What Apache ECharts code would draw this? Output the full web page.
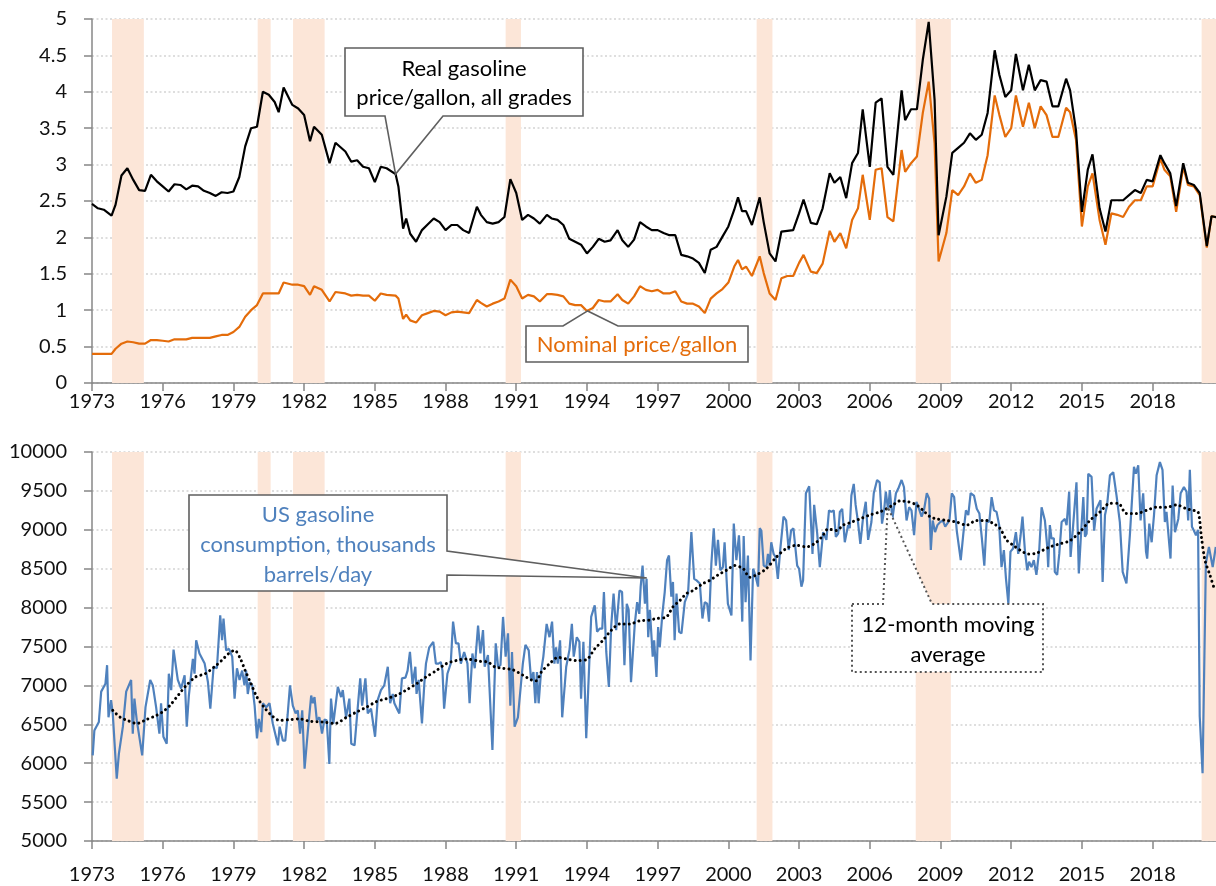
<!DOCTYPE html>
<html><head><meta charset="utf-8">
<script src="https://cdn.jsdelivr.net/npm/echarts@6/dist/echarts.min.js"></script>
<style>html,body{margin:0;padding:0;background:#fff}#c{width:1216px;height:886px}</style>
</head><body><div id="c"></div>
<script>
// ---------------- data ----------------
const BASE_YEAR = 1973;
const xTickYears = [1973,1976,1979,1982,1985,1988,1991,1994,1997,2000,2003,2006,2009,2012,2015,2018];
const priceTicks = [0,0.5,1,1.5,2,2.5,3,3.5,4,4.5,5];
const consTicks = [5000,5500,6000,6500,7000,7500,8000,8500,9000,9500,10000];
const recessions = [[1973.85,1975.2],[1980.03,1980.58],[1981.53,1982.87],[1990.55,1991.2],[2001.2,2001.87],[2007.95,2009.44],[2020.08,2021]];

const priceYears = [1973.00,1973.25,1973.50,1973.83,1974.00,1974.25,1974.50,1974.75,1975.00,1975.25,1975.50,1975.75,1976.00,1976.25,1976.50,1976.75,1977.00,1977.25,1977.50,1977.75,1978.00,1978.25,1978.50,1978.75,1979.00,1979.25,1979.50,1979.75,1980.00,1980.25,1980.50,1980.75,1980.92,1981.13,1981.50,1981.75,1982.00,1982.25,1982.42,1982.75,1983.08,1983.33,1983.75,1984.00,1984.25,1984.50,1984.75,1985.00,1985.25,1985.50,1985.88,1986.00,1986.20,1986.33,1986.50,1986.75,1987.00,1987.25,1987.50,1987.75,1988.00,1988.25,1988.50,1988.75,1989.00,1989.33,1989.50,1989.75,1990.00,1990.25,1990.50,1990.75,1991.00,1991.25,1991.50,1991.75,1992.00,1992.30,1992.50,1992.75,1993.00,1993.25,1993.50,1993.75,1994.00,1994.25,1994.50,1994.75,1995.00,1995.30,1995.50,1995.75,1996.00,1996.25,1996.50,1996.75,1997.00,1997.25,1997.50,1997.75,1998.00,1998.25,1998.50,1998.75,1999.00,1999.25,1999.50,1999.75,2000.00,2000.25,2000.41,2000.58,2000.75,2001.00,2001.33,2001.50,2001.75,2002.00,2002.25,2002.50,2002.75,2003.00,2003.19,2003.50,2003.75,2004.00,2004.30,2004.50,2004.75,2005.00,2005.25,2005.50,2005.70,2006.00,2006.25,2006.50,2006.75,2007.00,2007.35,2007.50,2007.75,2008.00,2008.25,2008.50,2008.75,2008.92,2009.25,2009.50,2009.75,2010.00,2010.25,2010.50,2010.75,2011.00,2011.30,2011.50,2011.75,2012.00,2012.20,2012.50,2012.75,2013.00,2013.25,2013.50,2013.75,2014.00,2014.33,2014.50,2014.75,2015.00,2015.25,2015.45,2015.75,2016.00,2016.25,2016.50,2016.75,2017.00,2017.25,2017.50,2017.75,2018.00,2018.33,2018.50,2018.75,2019.00,2019.30,2019.50,2019.75,2020.00,2020.30,2020.50,2020.80];
const realPrice = [2.46,2.40,2.38,2.30,2.45,2.85,2.95,2.79,2.65,2.64,2.86,2.77,2.70,2.63,2.73,2.72,2.66,2.71,2.70,2.64,2.61,2.57,2.62,2.61,2.63,2.83,3.25,3.50,3.52,4.00,3.96,3.86,3.72,4.06,3.82,3.77,3.68,3.32,3.52,3.41,3.02,3.30,3.18,3.04,3.06,2.97,2.95,2.76,2.97,2.95,2.87,2.70,2.12,2.26,2.05,1.94,2.10,2.18,2.26,2.21,2.10,2.17,2.17,2.10,2.06,2.42,2.31,2.21,2.19,2.21,2.28,2.80,2.61,2.24,2.31,2.26,2.19,2.31,2.26,2.24,2.17,1.98,1.94,1.90,1.78,1.87,1.98,1.94,1.96,2.10,1.96,1.87,1.97,2.21,2.15,2.10,2.10,2.06,2.03,2.03,1.76,1.74,1.71,1.65,1.51,1.83,1.87,2.01,2.15,2.38,2.55,2.36,2.36,2.17,2.55,2.21,1.78,1.67,2.08,2.09,2.10,2.33,2.52,2.20,2.18,2.40,2.88,2.75,2.83,2.54,3.02,3.16,3.76,2.97,3.85,3.91,2.97,2.86,4.02,3.61,3.76,3.76,4.44,4.96,3.89,2.03,2.56,3.16,3.23,3.30,3.43,3.34,3.41,3.71,4.57,4.23,3.93,4.02,4.52,4.02,4.37,4.02,4.16,4.14,3.80,3.80,4.18,4.02,3.47,2.35,2.93,3.14,2.40,2.08,2.51,2.51,2.51,2.58,2.65,2.61,2.79,2.77,3.13,3.02,2.88,2.43,3.02,2.75,2.72,2.61,1.88,2.29,2.27];
const nominalPrice = [0.40,0.40,0.40,0.40,0.47,0.54,0.57,0.56,0.54,0.54,0.59,0.59,0.58,0.57,0.60,0.60,0.60,0.62,0.62,0.62,0.62,0.64,0.66,0.66,0.70,0.77,0.91,1.00,1.07,1.23,1.23,1.23,1.23,1.38,1.35,1.35,1.33,1.21,1.33,1.28,1.12,1.25,1.23,1.20,1.21,1.20,1.20,1.13,1.23,1.21,1.20,1.16,0.88,0.94,0.86,0.83,0.93,0.96,0.99,0.98,0.93,0.97,0.98,0.97,0.96,1.14,1.10,1.05,1.09,1.12,1.16,1.42,1.33,1.16,1.21,1.19,1.12,1.22,1.22,1.21,1.19,1.09,1.07,1.07,0.99,1.03,1.14,1.12,1.12,1.22,1.14,1.09,1.19,1.33,1.28,1.26,1.28,1.23,1.23,1.26,1.12,1.09,1.09,1.05,0.96,1.16,1.23,1.29,1.38,1.60,1.69,1.56,1.60,1.47,1.74,1.51,1.23,1.14,1.44,1.47,1.47,1.65,1.76,1.53,1.51,1.64,2.09,1.94,2.06,1.85,2.24,2.40,2.86,2.24,2.93,2.95,2.28,2.22,3.20,2.90,3.02,3.11,3.71,4.14,3.29,1.67,2.06,2.65,2.58,2.70,2.88,2.75,2.79,3.13,3.95,3.68,3.38,3.50,3.95,3.52,3.85,3.50,3.80,3.68,3.38,3.38,3.78,3.72,3.34,2.15,2.70,2.88,2.24,1.90,2.33,2.31,2.28,2.42,2.51,2.51,2.70,2.70,3.08,2.93,2.84,2.35,2.97,2.72,2.70,2.58,1.86,2.29,2.27];

const consYears = [1973.03,1973.10,1973.29,1973.39,1973.57,1973.64,1973.70,1973.81,1973.88,1974.05,1974.14,1974.31,1974.45,1974.66,1974.73,1974.80,1974.90,1975.13,1975.27,1975.47,1975.58,1975.72,1975.79,1975.86,1975.93,1976.03,1976.17,1976.26,1976.36,1976.46,1976.64,1976.78,1976.93,1977.02,1977.11,1977.28,1977.35,1977.42,1977.56,1977.78,1977.92,1978.02,1978.16,1978.30,1978.44,1978.52,1978.58,1978.69,1978.81,1978.95,1979.05,1979.15,1979.26,1979.37,1979.47,1979.54,1979.61,1979.69,1979.80,1979.90,1980.00,1980.08,1980.18,1980.25,1980.39,1980.53,1980.67,1980.89,1980.96,1981.10,1981.20,1981.30,1981.40,1981.52,1981.64,1981.73,1981.83,1981.92,1982.02,1982.16,1982.30,1982.37,1982.44,1982.54,1982.65,1982.76,1982.86,1982.96,1983.07,1983.14,1983.24,1983.43,1983.57,1983.64,1983.78,1983.92,1984.00,1984.14,1984.24,1984.38,1984.46,1984.60,1984.70,1984.84,1984.91,1985.01,1985.12,1985.26,1985.40,1985.55,1985.65,1985.76,1985.83,1985.90,1985.97,1986.04,1986.15,1986.30,1986.39,1986.49,1986.60,1986.72,1986.77,1986.86,1987.00,1987.10,1987.17,1987.31,1987.48,1987.59,1987.70,1987.80,1987.87,1987.94,1988.08,1988.22,1988.32,1988.44,1988.55,1988.65,1988.79,1988.93,1989.02,1989.14,1989.24,1989.38,1989.48,1989.59,1989.66,1989.80,1989.87,1989.99,1990.13,1990.23,1990.33,1990.44,1990.55,1990.65,1990.75,1990.82,1990.93,1991.07,1991.28,1991.39,1991.53,1991.63,1991.73,1991.81,1991.88,1991.95,1992.05,1992.15,1992.29,1992.41,1992.52,1992.62,1992.69,1992.76,1992.86,1992.95,1993.12,1993.26,1993.36,1993.44,1993.57,1993.68,1993.75,1993.85,1993.97,1994.11,1994.18,1994.33,1994.43,1994.54,1994.65,1994.72,1994.82,1994.93,1995.03,1995.13,1995.24,1995.38,1995.49,1995.59,1995.69,1995.77,1995.87,1996.03,1996.13,1996.22,1996.28,1996.36,1996.46,1996.53,1996.60,1996.67,1996.79,1996.85,1996.95,1997.02,1997.09,1997.20,1997.30,1997.40,1997.48,1997.58,1997.65,1997.72,1997.80,1997.91,1998.01,1998.15,1998.29,1998.43,1998.55,1998.65,1998.79,1998.90,1999.00,1999.10,1999.18,1999.28,1999.38,1999.47,1999.56,1999.66,1999.77,1999.84,1999.98,2000.13,2000.23,2000.34,2000.45,2000.52,2000.59,2000.65,2000.73,2000.83,2000.94,2001.05,2001.14,2001.26,2001.33,2001.40,2001.50,2001.61,2001.68,2001.75,2001.82,2001.92,2002.00,2002.10,2002.20,2002.34,2002.45,2002.56,2002.66,2002.76,2002.92,2003.00,2003.10,2003.17,2003.29,2003.43,2003.57,2003.64,2003.77,2003.88,2004.02,2004.16,2004.27,2004.37,2004.47,2004.56,2004.66,2004.73,2004.83,2004.94,2005.08,2005.15,2005.22,2005.32,2005.40,2005.50,2005.60,2005.72,2005.83,2005.93,2006.07,2006.17,2006.31,2006.42,2006.52,2006.61,2006.68,2006.78,2006.85,2006.96,2007.11,2007.21,2007.35,2007.45,2007.56,2007.67,2007.77,2007.88,2007.98,2008.09,2008.20,2008.31,2008.42,2008.52,2008.59,2008.67,2008.77,2008.87,2008.99,2009.10,2009.20,2009.27,2009.38,2009.48,2009.58,2009.69,2009.76,2009.86,2009.97,2010.08,2010.18,2010.28,2010.42,2010.54,2010.65,2010.75,2010.86,2010.96,2011.07,2011.17,2011.27,2011.38,2011.49,2011.59,2011.69,2011.78,2011.88,2011.97,2012.08,2012.20,2012.30,2012.40,2012.48,2012.58,2012.68,2012.76,2012.86,2012.96,2013.07,2013.19,2013.29,2013.43,2013.53,2013.57,2013.64,2013.71,2013.81,2013.85,2013.95,2014.04,2014.14,2014.28,2014.35,2014.46,2014.52,2014.63,2014.77,2014.87,2014.96,2015.06,2015.13,2015.20,2015.27,2015.41,2015.52,2015.62,2015.79,2015.88,2015.98,2016.07,2016.19,2016.33,2016.47,2016.61,2016.73,2016.89,2017.04,2017.21,2017.29,2017.39,2017.49,2017.60,2017.72,2017.77,2017.86,2017.96,2018.06,2018.17,2018.31,2018.42,2018.52,2018.59,2018.76,2018.85,2018.95,2019.09,2019.19,2019.33,2019.44,2019.51,2019.58,2019.67,2019.75,2019.84,2019.93,2020.00,2020.12,2020.26,2020.39,2020.55,2020.68];
const consumption = [6100,6420,6530,6920,7020,7260,6590,6810,6640,5800,6120,6470,6920,7070,6380,6830,6550,6100,6720,7070,7000,6720,6740,6380,6770,6340,6250,7150,6940,7460,7070,6960,7130,6470,6870,7340,7150,7580,7410,7280,7040,6700,7240,7220,7900,7580,7860,7450,7470,7370,6830,7220,7070,7190,7000,7190,6890,7040,7000,6740,6320,6570,6400,6770,6720,6770,6510,6230,6470,6290,6290,6620,7000,6740,6640,6680,6380,6680,5930,6420,6870,6770,6850,6550,6590,6380,6560,6550,5990,6830,6510,6980,6850,6940,6590,6830,6250,6230,6590,7090,6740,7090,6640,6700,6720,6340,6810,6940,7000,7240,6770,6890,6770,6770,6680,6640,7090,7100,7190,7430,7020,7240,6890,7070,6510,7020,7280,7490,7560,7280,7280,7300,7190,6700,7150,7280,7820,7540,7540,7280,7430,7280,6770,7410,7220,7770,7410,7710,7240,7390,7370,6170,7540,7240,7260,7880,7370,7670,6740,7430,6470,6590,7280,7520,7450,7070,7170,6770,7170,6770,7170,7370,7790,7620,7820,7280,7490,7280,7580,6590,7240,7460,7790,7370,7620,7560,6830,7560,6320,7370,7880,8030,7690,7730,7730,8200,7430,6980,7770,8180,7710,8220,8200,7260,8050,7970,7040,7790,8070,7920,8270,8540,8050,8370,7620,7970,7370,7580,7110,7750,7490,7920,8200,8610,8670,8140,8330,7580,8180,7690,7670,8070,8180,8970,8370,8350,8310,7860,8070,8050,7820,8570,9020,8540,8870,8480,8520,8840,8050,7900,9080,8610,8930,8480,7820,8920,8070,8670,7320,8500,8420,8270,9020,8990,8540,8520,8690,8540,8840,8690,8650,8370,8740,9170,9120,8740,8990,9020,8540,8500,8270,8350,9470,9560,8690,9320,8950,8520,8970,8870,9250,9230,9250,8910,8950,9230,9270,8840,9060,9020,9440,9590,9320,9100,8820,9170,9360,8870,9100,9470,9640,9610,9080,9250,9490,9250,9510,9140,9470,9530,9640,9550,9120,9290,9250,8930,9360,9270,9170,9270,9470,9400,8740,9120,8970,9060,9100,9120,9040,9020,9120,9470,9420,8990,8970,8610,8950,9250,9190,9470,9440,9270,9210,8910,8540,9120,9100,9420,9250,9230,9060,8520,8740,8370,8050,8720,8760,8970,8690,8930,9170,8740,8480,8590,8520,8610,8420,8740,9290,9120,8780,8520,9060,8890,8890,8460,8420,8690,9100,9140,9060,9490,8650,9060,9610,8440,8930,9420,8910,8950,9720,9680,8990,9270,9380,8330,9190,9320,9700,9740,9440,9100,8460,8310,8950,9810,9720,9830,9120,9470,8720,8630,9080,8840,9190,9700,9870,9770,9100,9230,8630,9570,8970,9140,9470,9550,9490,9120,9770,9040,8990,8930,9000,6600,5870,8570,8780,8520,8780];

const maYears = [1973.88,1974.20,1974.50,1974.90,1975.30,1975.70,1976.00,1976.30,1976.70,1977.00,1977.40,1977.80,1978.20,1978.50,1978.80,1979.05,1979.30,1979.50,1979.75,1980.00,1980.30,1980.60,1980.96,1981.38,1981.80,1982.23,1982.80,1983.30,1983.80,1984.24,1984.64,1985.06,1985.49,1985.90,1986.33,1986.76,1987.18,1987.61,1988.03,1988.46,1988.88,1989.45,1989.80,1990.08,1990.44,1990.86,1991.29,1991.64,1991.85,1992.06,1992.42,1992.77,1993.13,1993.55,1993.97,1994.33,1994.68,1995.04,1995.40,1995.81,1996.24,1996.66,1996.95,1997.37,1997.65,1997.94,1998.22,1998.50,1998.93,1999.21,1999.56,1999.92,2000.27,2000.63,2000.91,2001.19,2001.61,2002.04,2002.46,2002.89,2003.31,2003.74,2004.02,2004.23,2004.59,2004.87,2005.15,2005.58,2006.00,2006.43,2006.71,2006.99,2007.27,2007.63,2007.98,2008.26,2008.55,2008.83,2009.26,2009.68,2010.10,2010.53,2010.95,2011.24,2011.52,2011.80,2012.09,2012.37,2012.72,2013.07,2013.64,2014.07,2014.49,2014.91,2015.34,2015.77,2016.19,2016.54,2016.89,2017.32,2017.74,2018.17,2018.60,2019.02,2019.44,2019.72,2019.93,2020.07,2020.22,2020.43,2020.64];
const movingAvg = [6680,6590,6550,6510,6560,6610,6660,6740,6890,7000,7110,7150,7240,7320,7410,7450,7340,7190,7020,6850,6720,6620,6550,6560,6570,6540,6530,6510,6590,6660,6720,6790,6830,6870,6940,7020,7110,7190,7280,7320,7340,7310,7300,7240,7220,7200,7130,7070,7060,7170,7280,7360,7340,7320,7330,7470,7580,7710,7790,7790,7830,7840,7860,7880,8010,8090,8180,8220,8310,8350,8420,8480,8540,8500,8390,8420,8500,8650,8760,8800,8780,8840,8930,9010,8990,9060,9090,9140,9190,9230,9270,9320,9370,9360,9320,9250,9170,9140,9120,9100,9060,9120,9120,9080,9020,8870,8800,8740,8690,8700,8780,8820,8860,8970,9120,9230,9340,9340,9210,9210,9250,9290,9290,9320,9270,9250,9230,8910,8610,8420,8220];

// annotation anchors (data coordinates)
const realAnchor = [1985.88, 2.87];
const nominalAnchor = [1994.03, 0.99];
const consAnchor = [1996.54, 8380];
const maAnchor = [2006.76, 9293];

// ---------------- build ----------------
const FONT = 'Lato, "Open Sans", sans-serif';
const AXIS_GRAY = '#878787';
const BAND = '#FCE6D8';
const pairs = (xs, ys) => xs.map((x, i) => [x - BASE_YEAR, ys[i]]);
const X_MAX = 47.69;

function xAxis(gridIndex, margin) {
  return {
    type: 'value', gridIndex, min: 0, max: X_MAX, interval: 3,
    axisLine: {show: true, lineStyle: {color: AXIS_GRAY, width: 1.5}},
    axisTick: {show: true, inside: false, length: 8, lineStyle: {color: AXIS_GRAY, width: 1.5}},
    splitLine: {show: false},
    axisLabel: {
      margin, color: '#111', fontFamily: FONT, fontSize: 20, showMaxLabel: false,
      formatter: v => { const y = Math.round(v) + BASE_YEAR; return (Math.abs(v - Math.round(v)) < 1e-6 && xTickYears.includes(y)) ? String(y) : ''; }
    }
  };
}
function yAxis(gridIndex, min, max, interval) {
  return {
    type: 'value', gridIndex, min, max, interval,
    axisLine: {show: true, lineStyle: {color: AXIS_GRAY, width: 1.5}},
    axisTick: {show: true, inside: false, length: 8, lineStyle: {color: AXIS_GRAY, width: 1.5}},
    splitLine: {show: true, lineStyle: {color: '#D4D4D4', width: 1.5, type: [2, 2.5]}},
    axisLabel: {margin: 25, color: '#111', fontFamily: FONT, fontSize: 20, formatter: v => String(v)}
  };
}
function bandSeries(gridIndex) {
  return {
    type: 'custom', xAxisIndex: gridIndex, yAxisIndex: gridIndex, z: 1, silent: true,
    data: recessions.map(r => [r[0] - BASE_YEAR, r[1] - BASE_YEAR]),
    encode: {x: [0, 1]},
    renderItem: (params, api) => {
      const cs = params.coordSys;
      const yv = gridIndex === 0 ? priceTicks[0] : consTicks[0];
      const x0 = api.coord([api.value(0), yv])[0];
      const x1 = Math.min(api.coord([api.value(1), yv])[0], cs.x + cs.width);
      return {type: 'rect', shape: {x: x0, y: cs.y, width: x1 - x0, height: cs.height}, style: {fill: BAND}};
    }
  };
}

const chart = echarts.init(document.getElementById('c'), null, {renderer: 'canvas'});
chart.setOption({
  animation: false,
  backgroundColor: '#fff',
  grid: [
    {left: 92, top: 19, width: 1124, height: 364},
    {left: 92, top: 452, width: 1124, height: 389}
  ],
  xAxis: [xAxis(0, 9), xAxis(1, 24)],
  yAxis: [yAxis(0, priceTicks[0], priceTicks[priceTicks.length - 1], 0.5),
          yAxis(1, consTicks[0], consTicks[consTicks.length - 1], 500)],
  series: [
    bandSeries(0),
    {type: 'line', xAxisIndex: 0, yAxisIndex: 0, z: 3, data: pairs(priceYears, nominalPrice), showSymbol: false, symbol: 'none',
     lineStyle: {color: '#E46C0A', width: 2.2}},
    {type: 'line', xAxisIndex: 0, yAxisIndex: 0, z: 4, data: pairs(priceYears, realPrice), showSymbol: false, symbol: 'none',
     lineStyle: {color: '#000', width: 2.2}},
    bandSeries(1),
    {type: 'line', xAxisIndex: 1, yAxisIndex: 1, z: 3, data: pairs(consYears, consumption), showSymbol: false, symbol: 'none',
     lineStyle: {color: '#4F81BD', width: 2.2}},
    {type: 'line', xAxisIndex: 1, yAxisIndex: 1, z: 4, data: pairs(maYears, movingAvg), showSymbol: false, symbol: 'none', smooth: 0.3,
     lineStyle: {color: '#000', width: 3, type: [0.01, 5], cap: 'round'}}
  ]
});

// ---------------- callouts ----------------
const tip = (grid, a) => chart.convertToPixel({gridIndex: grid}, [a[0] - BASE_YEAR, a[1]]);
const t1 = tip(0, realAnchor), t2 = tip(0, nominalAnchor), t3 = tip(1, consAnchor), t4 = tip(1, maAnchor);
const boxStyle = {fill: '#fff', stroke: '#5F5F5F', lineWidth: 1.6};
const txt = (text, x, y, color) => ({type: 'text', z: 101, style: {text, x, y, align: 'center', verticalAlign: 'middle', font: '22px ' + FONT, fill: color}});
chart.setOption({
  graphic: [
    {type: 'polygon', z: 100, shape: {points: [[345,48],[583,48],[583,116],[443,116],t1,[385,116],[345,116]]}, style: boxStyle},
    txt('Real gasoline', 464, 69, '#000'),
    txt('price/gallon, all grades', 464, 98, '#000'),
    {type: 'polygon', z: 100, shape: {points: [[526,326],[563,326],t2,[618,326],[748,326],[748,362],[526,362]]}, style: boxStyle},
    txt('Nominal price/gallon', 637, 345, '#E46C0A'),
    {type: 'polygon', z: 100, shape: {points: [[189,495],[447,495],[447,551],t3,[447,575],[447,591],[189,591]]}, style: boxStyle},
    txt('US gasoline', 318, 515, '#4F81BD'),
    txt('consumption, thousands', 318, 545, '#4F81BD'),
    txt('barrels/day', 318, 575, '#4F81BD'),
    {type: 'polygon', z: 100, shape: {points: [[852,604],[883,604],t4,[932,604],[1043,604],[1043,672],[852,672]]},
     style: {fill: '#fff', stroke: '#555', lineWidth: 2, lineDash: [2, 3]}},
    txt('12-month moving', 948, 625, '#000'),
    txt('average', 948, 655, '#000')
  ]
});
</script></body></html>
